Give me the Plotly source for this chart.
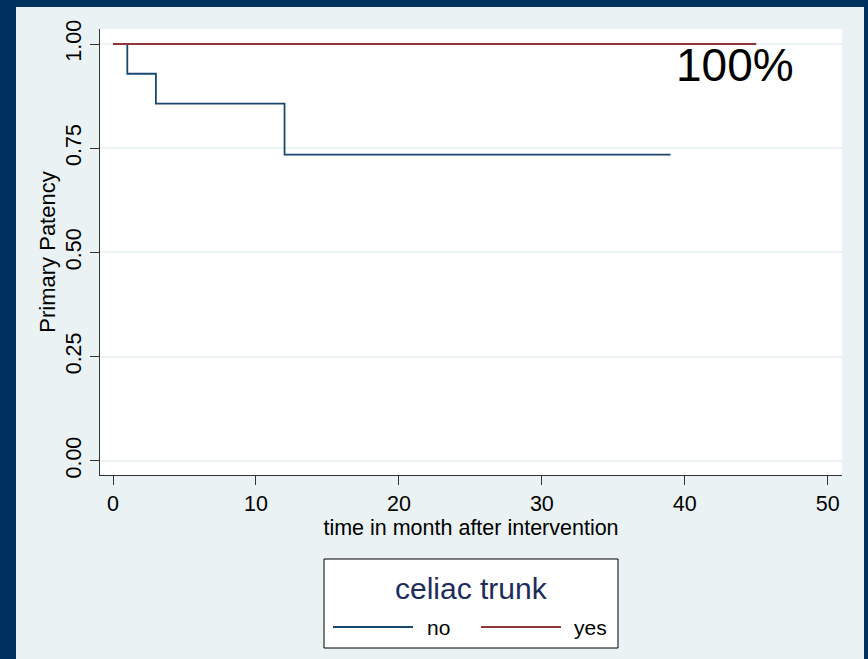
import plotly.graph_objects as go

# ---- data ----
time_no = [0, 1, 3, 12, 39]
surv_no = [1.0, 0.9286, 0.8571, 0.7347, 0.7347]
time_yes = [0, 45]
surv_yes = [1.0, 1.0]
x_ticks = [0, 10, 20, 30, 40, 50]
y_ticks = [0.0, 0.25, 0.5, 0.75, 1.0]
y_tick_labels = ["0.00", "0.25", "0.50", "0.75", "1.00"]
legend_title = "celiac trunk"
legend_labels = ["no", "yes"]
annot_text = "100%"

W, H = 868, 659
L, R, T, B = 100, 842, 29, 475  # plot area pixels
NAVY = "#00305e"
BG = "#eaf2f3"
BLUE = "#1a476f"
RED = "#90353b"
FONT = "Liberation Sans, Arial, sans-serif"


def px(x):
    return (x - L) / (R - L)


def py(y):
    return (B - y) / (B - T)


fig = go.Figure()
fig.add_trace(go.Scatter(x=time_no, y=surv_no, mode="lines", line=dict(color=BLUE, width=1.8, shape="hv"),
                         name=legend_labels[0], showlegend=False))
fig.add_trace(go.Scatter(x=time_yes, y=surv_yes, mode="lines", line=dict(color=RED, width=1.8, shape="hv"),
                         name=legend_labels[1], showlegend=False))

fig.add_annotation(x=43.5, y=0.95, xref="x", yref="y", text=annot_text, showarrow=False,
                   font=dict(size=46, color="black", family=FONT))

shapes = []
# navy frame
for (x0, y0, x1, y1) in [(0, 0, 16, H), (0, 0, W, 7), (864, 0, W, H)]:
    shapes.append(dict(type="rect", xref="paper", yref="paper", x0=px(x0), x1=px(x1), y0=py(y0), y1=py(y1),
                       fillcolor=NAVY, line=dict(width=0), layer="above"))
# legend box
shapes.append(dict(type="rect", xref="paper", yref="paper", x0=px(324), x1=px(618), y0=py(559), y1=py(648),
                   fillcolor="white", line=dict(color="black", width=1)))
shapes.append(dict(type="line", xref="paper", yref="paper", x0=px(333), x1=px(413), y0=py(627), y1=py(627),
                   line=dict(color=BLUE, width=1.8)))
shapes.append(dict(type="line", xref="paper", yref="paper", x0=px(481), x1=px(561), y0=py(627), y1=py(627),
                   line=dict(color=RED, width=1.8)))
fig.update_layout(shapes=shapes)

fig.add_annotation(x=px(471), y=py(588), xref="paper", yref="paper", text=legend_title, showarrow=False,
                   font=dict(size=30, color="#1e2c5c", family=FONT), xanchor="center", yanchor="middle")
fig.add_annotation(x=px(438), y=py(627), xref="paper", yref="paper", text=legend_labels[0], showarrow=False,
                   font=dict(size=21, color="black", family=FONT), xanchor="center", yanchor="middle")
fig.add_annotation(x=px(590), y=py(627), xref="paper", yref="paper", text=legend_labels[1], showarrow=False,
                   font=dict(size=21, color="black", family=FONT), xanchor="center", yanchor="middle")

fig.update_layout(
    width=W, height=H,
    margin=dict(l=L, r=W - R, t=T, b=H - B, pad=0),
    paper_bgcolor=BG, plot_bgcolor="white",
    font=dict(family=FONT, size=21, color="black"),
    showlegend=False,
    xaxis=dict(range=[-0.91, 51.0], tickvals=x_ticks, ticks="outside", ticklen=9, tickcolor="#333",
               showline=True, linecolor="#333", linewidth=1, showgrid=False, zeroline=False,
               tickfont=dict(size=21.5), automargin=False,
               title=dict(text="time in month after intervention", font=dict(size=21.5), standoff=2)),
    yaxis=dict(range=[-0.034, 1.036], tickvals=y_ticks, ticktext=y_tick_labels, ticks="outside", ticklen=9,
               tickcolor="#333", tickangle=-90, showline=True, linecolor="#333", linewidth=1,
               showgrid=True, gridcolor=BG, gridwidth=1.5, zeroline=False, tickfont=dict(size=21.5),
               automargin=False,
               title=dict(text="Primary Patency", font=dict(size=22), standoff=0)),
)

fig.write_html("out.html")
